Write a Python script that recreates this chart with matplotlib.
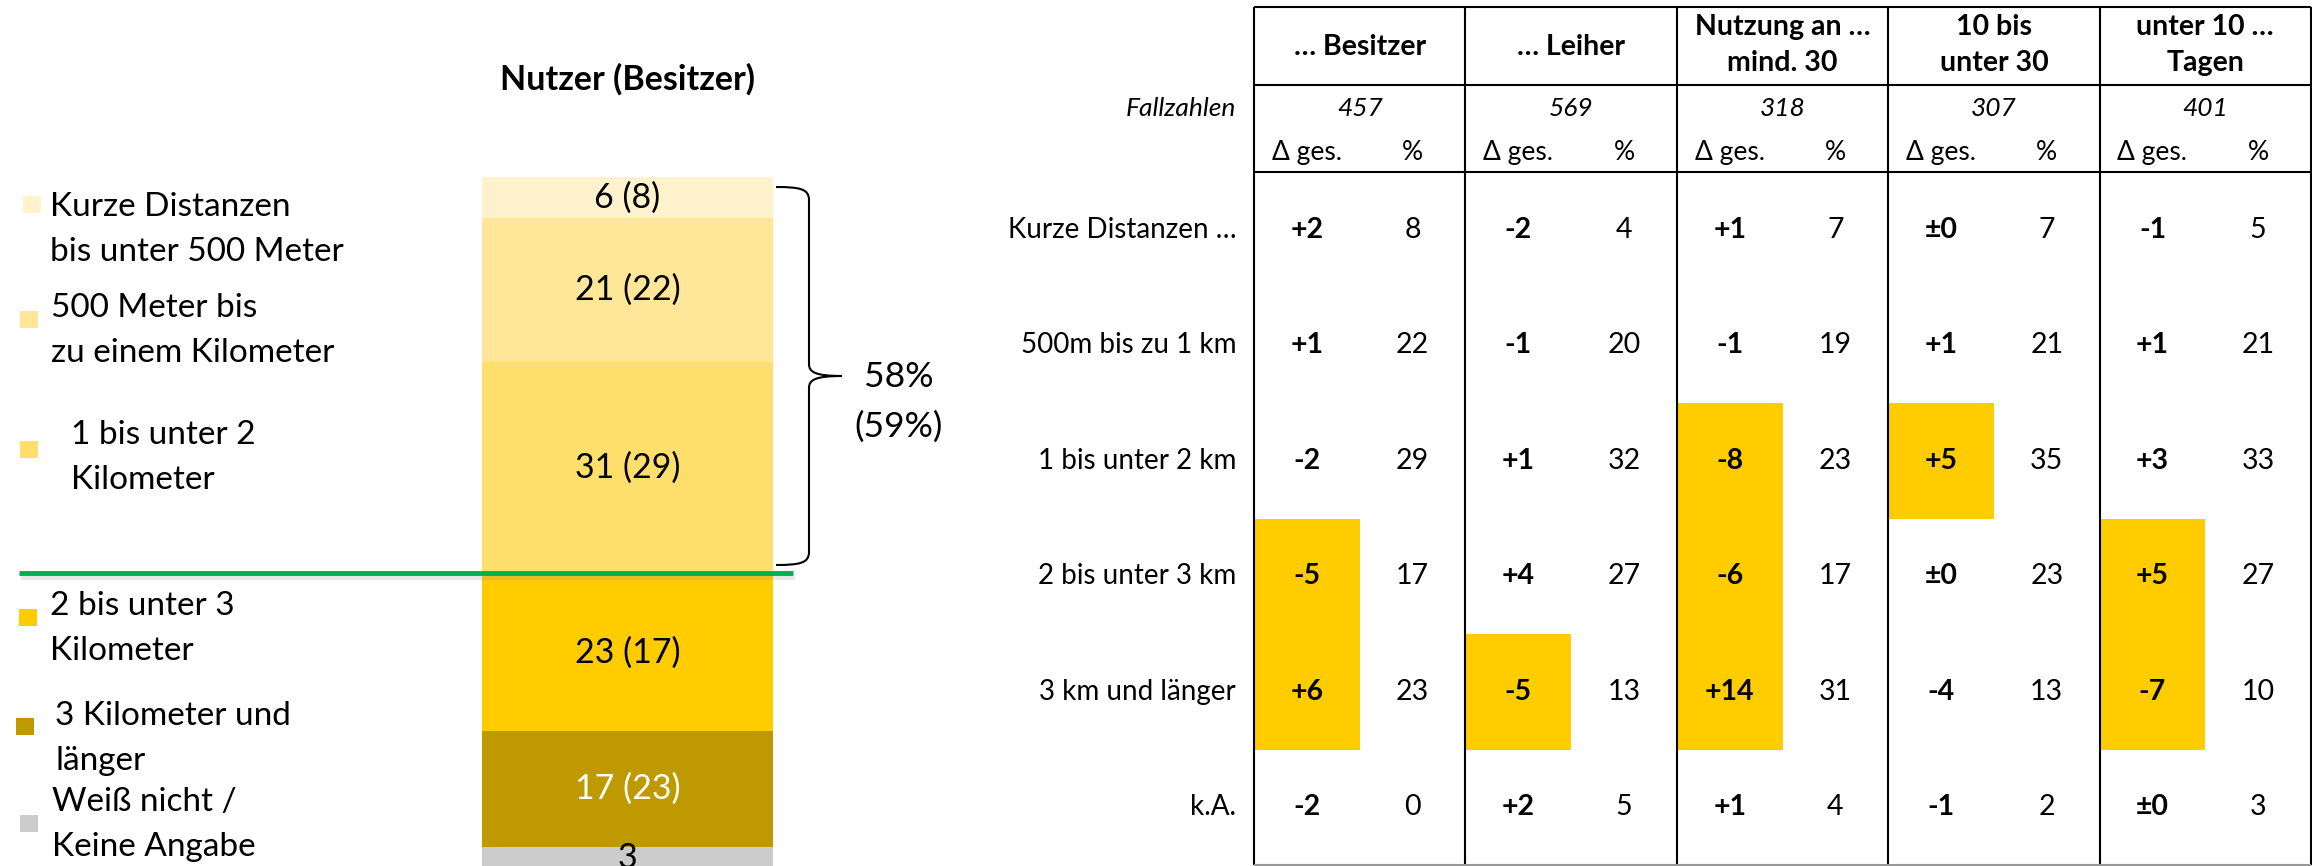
import matplotlib
matplotlib.use('Agg')
import matplotlib.pyplot as plt
from matplotlib.patches import Rectangle, PathPatch
from matplotlib.path import Path

plt.rcParams['font.family'] = ['Lato', 'DejaVu Sans']

# linker Balken: Nutzer (Besitzer), Anteile in %, Vorjahr in Klammern
kategorien = ['Kurze Distanzen\nbis unter 500 Meter', '500 Meter bis\nzu einem Kilometer',
              '1 bis unter 2\nKilometer', '2 bis unter 3\nKilometer',
              '3 Kilometer und\nlänger', 'Weiß nicht /\nKeine Angabe']
werte = [6, 21, 31, 23, 17, 3]
vorjahr = [8, 22, 29, 17, 23, None]
farben = ['#FFF2CC', '#FFE699', '#FFDF6B', '#FFCC00', '#BF9900', '#CCCCCC']
summe_kurz = 58
summe_kurz_vj = 59

# rechte Tabelle
spalten = ['… Besitzer', '… Leiher', 'Nutzung an …\nmind. 30', '10 bis\nunter 30', 'unter 10 …\nTagen']
fallzahlen = [457, 569, 318, 307, 401]
zeilen = ['Kurze Distanzen …', '500m bis zu 1 km', '1 bis unter 2 km',
          '2 bis unter 3 km', '3 km und länger', 'k.A.']
delta = [[2, -2, 1, 0, -1],
         [1, -1, -1, 1, 1],
         [-2, 1, -8, 5, 3],
         [-5, 4, -6, 0, 5],
         [6, -5, 14, -4, -7],
         [-2, 2, 1, -1, 0]]
prozent = [[8, 4, 7, 7, 5],
           [22, 20, 19, 21, 21],
           [29, 32, 23, 35, 33],
           [17, 27, 17, 23, 27],
           [23, 13, 31, 13, 10],
           [0, 5, 4, 2, 3]]
markiert = [[0, 0, 0, 0, 0],
            [0, 0, 0, 0, 0],
            [0, 0, 1, 1, 0],
            [1, 0, 1, 0, 1],
            [1, 1, 1, 0, 1],
            [0, 0, 0, 0, 0]]

W, H = 2312, 866
fig = plt.figure(figsize=(W / 100, H / 100), dpi=100)


def box(x0, y0, x1, y1):
    return [x0 / W, 1 - y1 / H, (x1 - x0) / W, (y1 - y0) / H]


def fmt(d):
    if d == 0:
        return '±0'
    return '%+d' % d


# --- Balken ---
ax_bar = fig.add_axes(box(482, 177, 773, 866))
unten = 0
for i, (v, vj, c) in enumerate(zip(werte, vorjahr, farben)):
    ax_bar.bar(0, v, bottom=unten, width=1, align='edge', color=c, linewidth=0)
    txt = str(v) if vj is None else '%d (%d)' % (v, vj)
    ax_bar.text(0.5, unten + v / 2, txt, ha='center', va='center', fontsize=24.5,
                color='white' if i == 4 else 'black', clip_on=False)
    unten += v
ax_bar.set_xlim(0, 1)
ax_bar.set_ylim((866 - 177) / 6.84, 0)
ax_bar.axis('off')

# --- Tabelle ---
ax_tab = fig.add_axes(box(1254, 7, 2311, 865))
kopf = -(172 - 7) / 115.5
ax_tab.set_xlim(0, 5)
ax_tab.set_ylim(6, kopf)
ax_tab.axis('off')

for i in range(len(zeilen)):
    for j in range(len(spalten)):
        if markiert[i][j]:
            ax_tab.bar(j, 1, bottom=i, width=0.5, align='edge', color='#FFCC00', linewidth=0)
        ax_tab.text(j + 0.25, i + 0.5, fmt(delta[i][j]), ha='center', va='center',
                    fontsize=20.5, fontweight='bold')
        ax_tab.text(j + 0.75, i + 0.5, str(prozent[i][j]), ha='center', va='center', fontsize=20.5)
    ax_tab.text(-0.085, i + 0.5, zeilen[i], ha='right', va='center', fontsize=20, clip_on=False)

for j in range(len(spalten)):
    teile = spalten[j].split('\n')
    ys = [-1.082] if len(teile) == 1 else [-1.255, -0.944]
    for t, y in zip(teile, ys):
        ax_tab.text(j + 0.5, y, t, ha='center', va='center', fontsize=20.5, fontweight='bold')
    ax_tab.text(j + 0.5, -0.554, str(fallzahlen[j]), ha='center', va='center',
                fontsize=19, style='italic')
    ax_tab.text(j + 0.25, -0.17, 'Δ ges.', ha='center', va='center', fontsize=19)
    ax_tab.text(j + 0.75, -0.17, '%', ha='center', va='center', fontsize=19)
ax_tab.text(-0.085, -0.554, 'Fallzahlen', ha='right', va='center', fontsize=19,
            style='italic', clip_on=False)

ax_tab.vlines(range(6), kopf, 6, color='black', lw=1.5, clip_on=False)
ax_tab.hlines([kopf, -0.753, 0], 0, 5, color='black', lw=1.5, clip_on=False)
ax_tab.hlines(6, 0, 5, color='#999999', lw=1.5, clip_on=False)

# --- Legende, Titel, Klammer ---
ax_ov = fig.add_axes([0, 0, 1, 1], zorder=5)
ax_ov.set_xlim(0, W)
ax_ov.set_ylim(H, 0)
ax_ov.axis('off')
ax_ov.patch.set_alpha(0)

ax_ov.text(627, 79, 'Nutzer (Besitzer)', ha='center', va='center', fontsize=24.5, fontweight='bold')

leg_box = [(23, 196), (20, 311), (20, 441), (19, 609), (16, 718), (20, 815)]
leg_txt = [(50, 207), (51, 308), (71, 435), (50, 606), (55, 716), (52, 802)]
for k, lab in enumerate(kategorien):
    ax_ov.add_patch(Rectangle(leg_box[k], 18, 17, color=farben[k], lw=0))
    for n, line in enumerate(lab.split('\n')):
        ax_ov.text(leg_txt[k][0], leg_txt[k][1] + 45 * n, line, ha='left', va='center', fontsize=24)

ax_ov.plot([21, 795], [578, 578], color='#888888', alpha=0.2, lw=3, solid_capstyle='butt')
ax_ov.plot([19, 793], [573, 573], color='#00B050', lw=3.5, solid_capstyle='butt')

verts = [(776, 187), (800, 187), (809, 189), (809, 200),
         (809, 364),
         (809, 372), (815, 376), (842, 376),
         (815, 376), (809, 380), (809, 388),
         (809, 552),
         (809, 563), (800, 565), (776, 565)]
codes = [Path.MOVETO, Path.CURVE4, Path.CURVE4, Path.CURVE4,
         Path.LINETO,
         Path.CURVE4, Path.CURVE4, Path.CURVE4,
         Path.CURVE4, Path.CURVE4, Path.CURVE4,
         Path.LINETO,
         Path.CURVE4, Path.CURVE4, Path.CURVE4]
ax_ov.add_patch(PathPatch(Path(verts, codes), fill=False, lw=1.5, color='black'))
ax_ov.text(899, 377, '%d%%' % summe_kurz, ha='center', va='center', fontsize=25.5)
ax_ov.text(899, 427, '(%d%%)' % summe_kurz_vj, ha='center', va='center', fontsize=25.5)

fig.savefig('out.png', dpi=100)
